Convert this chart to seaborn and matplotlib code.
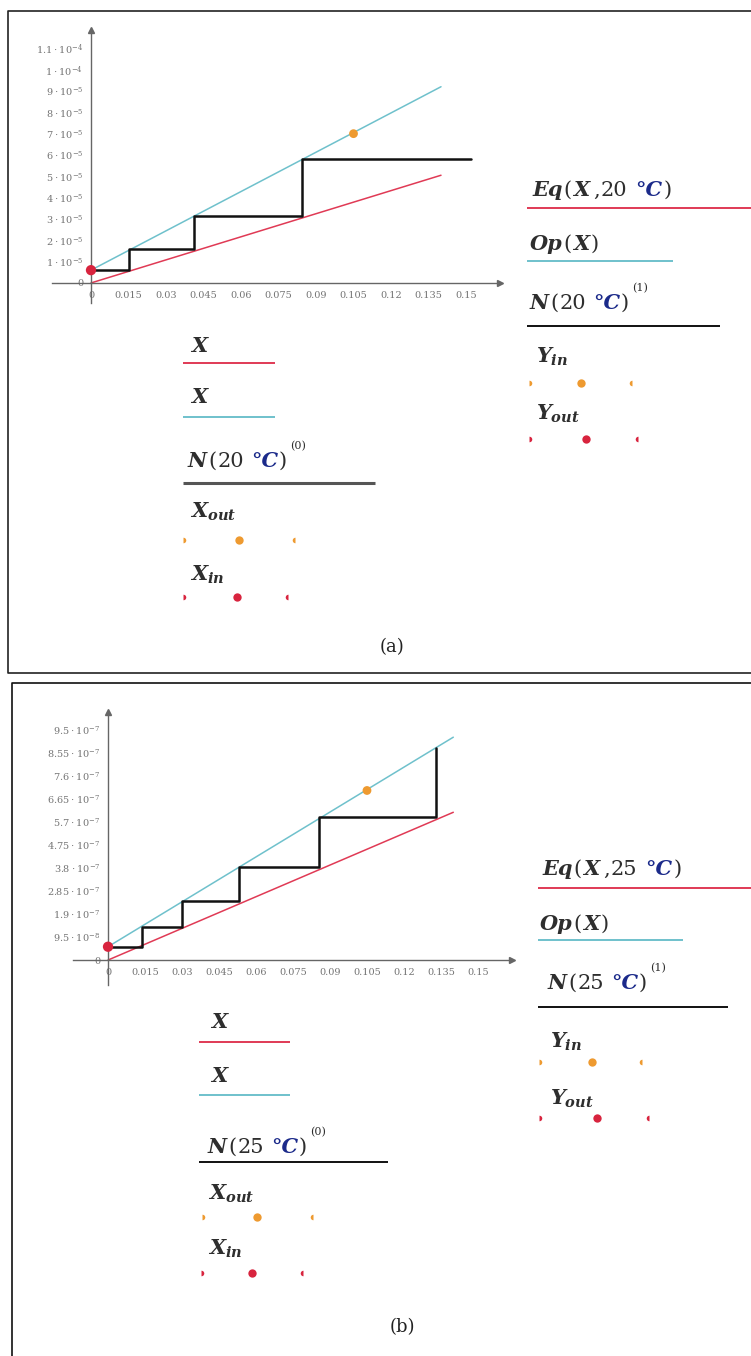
import matplotlib
matplotlib.use("Agg")
import matplotlib.pyplot as plt
import seaborn as sns
import pandas as pd

W, H = 751, 1356

# ---- panel (a): 20 °C ----
eq_a_x = [0.0, 0.14]
eq_a_y = [0.0, 5.05e-5]
op_a_x = [0.0, 0.14]
op_a_y = [0.6e-5, 9.2e-5]
stairs_a_x = [0.0, 0.015, 0.015, 0.041, 0.041, 0.0843, 0.0843, 0.152]
stairs_a_y = [0.6e-5, 0.6e-5, 1.57e-5, 1.57e-5, 3.15e-5, 3.15e-5, 5.8e-5, 5.8e-5]
in_a = (0.0, 0.6e-5)      # X_in / Y_out
out_a = (0.105, 7.0e-5)   # X_out / Y_in
yticks_a = [0, 1e-5, 2e-5, 3e-5, 4e-5, 5e-5, 6e-5, 7e-5, 8e-5, 9e-5, 1e-4, 1.1e-4]
ylabels_a = ["0"] + [r"$%d\cdot10^{-5}$" % i for i in range(1, 10)] + \
    [r"$1\cdot10^{-4}$", r"$1.1\cdot10^{-4}$"]

# ---- panel (b): 25 °C ----
eq_b_x = [0.0, 0.14]
eq_b_y = [0.0, 6.1e-7]
op_b_x = [0.0, 0.14]
op_b_y = [0.55e-7, 9.2e-7]
stairs_b_x = [0.0, 0.0137, 0.0137, 0.0301, 0.0301, 0.0532, 0.0532,
              0.0857, 0.0857, 0.133, 0.133]
stairs_b_y = [0.55e-7, 0.55e-7, 1.36e-7, 1.36e-7, 2.45e-7, 2.45e-7, 3.83e-7,
              3.83e-7, 5.9e-7, 5.9e-7, 8.75e-7]
in_b = (0.0, 0.55e-7)
out_b = (0.105, 7.0e-7)
yticks_b = [0, 9.5e-8, 1.9e-7, 2.85e-7, 3.8e-7, 4.75e-7, 5.7e-7, 6.65e-7,
            7.6e-7, 8.55e-7, 9.5e-7]
ylabels_b = ["0", r"$9.5\cdot10^{-8}$", r"$1.9\cdot10^{-7}$", r"$2.85\cdot10^{-7}$",
             r"$3.8\cdot10^{-7}$", r"$4.75\cdot10^{-7}$", r"$5.7\cdot10^{-7}$",
             r"$6.65\cdot10^{-7}$", r"$7.6\cdot10^{-7}$", r"$8.55\cdot10^{-7}$",
             r"$9.5\cdot10^{-7}$"]

xticks = [0, 0.015, 0.03, 0.045, 0.06, 0.075, 0.09, 0.105, 0.12, 0.135, 0.15]
xlabels = ["0", "0.015", "0.03", "0.045", "0.06", "0.075", "0.09", "0.105",
           "0.12", "0.135", "0.15"]

RED = "#e03a55"
DOTRED = "#d8243e"
BLUE = "#6fc1cc"
ORANGE = "#ee9a30"
BLACK = "#111111"
TXT = "#2e2e2e"
NAVY = "#1b2a8a"

sns.set_theme(style="white")
plt.rcParams["font.family"] = ["DejaVu Serif"]
plt.rcParams["mathtext.fontset"] = "custom"
plt.rcParams["mathtext.rm"] = "DejaVu Serif"
plt.rcParams["mathtext.it"] = "DejaVu Serif:italic:bold"
plt.rcParams["mathtext.bf"] = "DejaVu Serif:bold"

fig = plt.figure(figsize=(W / 100, H / 100), dpi=100)

# overlay in pixel units for frames and legend glyphs
ov = fig.add_axes([0, 0, 1, 1])
ov.set_xlim(0, W)
ov.set_ylim(H, 0)
ov.axis("off")

# panel frames
ov.plot([W + 5, 8, 8, W + 5], [11, 11, 673, 673], color="#222", lw=1.2, clip_on=False)
ov.plot([W + 5, 12, 12], [683, 683, H + 5], color="#111", lw=1.2, clip_on=False)


def px_axes(l, t, r, b):
    return fig.add_axes([l / W, 1 - b / H, (r - l) / W, (b - t) / H])


def draw_panel(box, xlim, ylim, eq, op, stairs, p_in, p_out, yt, yl):
    ax = px_axes(*box)
    ax.patch.set_alpha(0)
    sns.lineplot(x=eq[0], y=eq[1], color=RED, lw=1.1, ax=ax,
                 estimator=None, sort=False)
    sns.lineplot(x=op[0], y=op[1], color=BLUE, lw=1.1, ax=ax,
                 estimator=None, sort=False)
    sns.lineplot(x=stairs[0], y=stairs[1], color=BLACK, lw=1.8, ax=ax,
                 estimator=None, sort=False)
    sns.scatterplot(x=[p_out[0]], y=[p_out[1]], color=ORANGE, s=40,
                    edgecolor="none", ax=ax, zorder=5)
    sns.scatterplot(x=[p_in[0]], y=[p_in[1]], color=DOTRED, s=55,
                    edgecolor="none", ax=ax, zorder=5, clip_on=False)
    ax.set_xlim(*xlim)
    ax.set_ylim(*ylim)
    for side in ["top", "right"]:
        ax.spines[side].set_visible(False)
    ax.spines["left"].set_position(("data", 0))
    ax.spines["bottom"].set_position(("data", 0))
    for side in ["left", "bottom"]:
        ax.spines[side].set_color("#666")
        ax.spines[side].set_linewidth(1.0)
    ax.plot(1, 0, ">", color="#666", ms=4, transform=ax.get_yaxis_transform(),
            clip_on=False)
    ax.plot(0, 1, "^", color="#666", ms=4, transform=ax.get_xaxis_transform(),
            clip_on=False)
    ax.set_xticks(xticks)
    ax.set_xticklabels(xlabels)
    ax.set_yticks(yt)
    ax.set_yticklabels(yl)
    ax.tick_params(direction="inout", length=7, width=0.9, color="#666",
                   labelsize=7, labelcolor="#747474", pad=2)
    ax.set_xlabel("")
    ax.set_ylabel("")
    return ax


draw_panel((52, 30, 500, 303), (-0.0156, 0.1636), (-0.94e-5, 1.186e-4),
           (eq_a_x, eq_a_y), (op_a_x, op_a_y), (stairs_a_x, stairs_a_y),
           in_a, out_a, yticks_a, ylabels_a)
draw_panel((73, 712, 512, 985), (-0.0142, 0.1638), (-1.03e-7, 1.024e-6),
           (eq_b_x, eq_b_y), (op_b_x, op_b_y), (stairs_b_x, stairs_b_y),
           in_b, out_b, yticks_b, ylabels_b)

renderer = fig.canvas.get_renderer()
FS = 15
STY = {
    "var": dict(style="italic", weight="bold", color=TXT, size=FS),
    "num": dict(style="normal", weight="normal", color=TXT, size=FS),
    "deg": dict(style="italic", weight="bold", color=NAVY, size=FS),
}


def chain(x, y, parts):
    for s, kind in parts:
        if kind == "sup":
            t = ov.text(x + 2, y - 18, s, size=8, color=TXT, va="baseline")
        elif kind == "gap":
            x += s
            continue
        else:
            t = ov.text(x, y, s, va="baseline", **STY[kind])
        x += t.get_window_extent(renderer).width + 1


def eq_label(x, y, temp):
    chain(x, y, [("Eq", "var"), ("(", "num"), ("X", "var"), (3, "gap"),
                 (",", "num"), (temp, "num"), (7, "gap"), ("°C", "deg"),
                 (")", "num")])


def op_label(x, y):
    chain(x, y, [("Op", "var"), ("(", "num"), ("X", "var"), (")", "num")])


def n_label(x, y, temp, k):
    chain(x, y, [("N", "var"), ("(", "num"), (temp, "num"), (6, "gap"),
                 ("°C", "deg"), (")", "num"), ("(%d)" % k, "sup")])


def sym(x, y, s):
    ov.text(x, y, s, va="baseline", size=FS, color=TXT)


def hline(x0, x1, y, color, lw=1.4):
    ov.plot([x0, x1], [y, y], color=color, lw=lw, solid_capstyle="butt")


def dots(xs, y, color):
    ov.plot(xs[0], y, "o", ms=4, color=color, fillstyle="right", mew=0)
    ov.plot(xs[1], y, "o", ms=6, color=color, mew=0)
    ov.plot(xs[2], y, "o", ms=4, color=color, fillstyle="left", mew=0)


# ---- legends panel (a) ----
eq_label(532, 196, "20")
hline(527, 751, 208, RED)
op_label(530, 250)
hline(527, 673, 261, BLUE)
n_label(530, 309, "20", 1)
hline(527, 720, 326, BLACK)
sym(536, 363, r"$Y_{in}$")
dots([529, 581, 632], 383, ORANGE)
sym(536, 420, r"$Y_{out}$")
dots([529, 586, 638], 439, DOTRED)

sym(190, 352, r"$X$")
hline(183, 275, 363, RED)
sym(190, 403, r"$X$")
hline(183, 275, 417, BLUE)
n_label(188, 467, "20", 0)
hline(183, 375, 483, "#555", lw=2.2)
sym(190, 518, r"$X_{out}$")
dots([183, 239, 295], 540, ORANGE)
sym(190, 581, r"$X_{in}$")
dots([183, 237, 288], 597, DOTRED)
ov.text(392, 647, "(a)", ha="center", va="center", size=13, color="#222")

# ---- legends panel (b) ----
eq_label(542, 875, "25")
hline(538, 751, 888, RED)
op_label(540, 930)
hline(538, 683, 940, BLUE)
n_label(548, 989, "25", 1)
hline(538, 728, 1007, BLACK)
sym(550, 1048, r"$Y_{in}$")
dots([539, 592, 642], 1062, ORANGE)
sym(550, 1105, r"$Y_{out}$")
dots([539, 597, 649], 1118, DOTRED)

sym(210, 1028, r"$X$")
hline(199, 290, 1042, RED)
sym(210, 1082, r"$X$")
hline(199, 290, 1095, BLUE)
n_label(208, 1153, "25", 0)
hline(199, 388, 1162, BLACK)
sym(208, 1200, r"$X_{out}$")
dots([202, 257, 313], 1217, ORANGE)
sym(208, 1255, r"$X_{in}$")
dots([201, 252, 303], 1273, DOTRED)
ov.text(402, 1327, "(b)", ha="center", va="center", size=13, color="#222")

fig.savefig("out.png", dpi=100)
